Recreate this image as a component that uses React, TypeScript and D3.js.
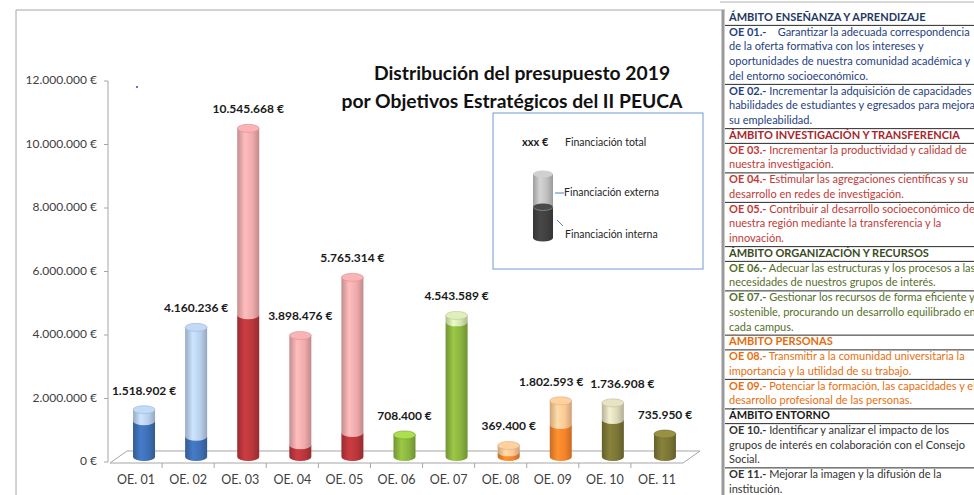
import React from 'react';
import * as d3 from 'd3';

const categories = ['OE. 01', 'OE. 02', 'OE. 03', 'OE. 04', 'OE. 05', 'OE. 06', 'OE. 07', 'OE. 08', 'OE. 09', 'OE. 10', 'OE. 11'];
const totalFunding = [1518902, 4160236, 10545668, 3898476, 5765314, 708400, 4543589, 369400, 1802593, 1736908, 735950];
const internalFunding = [1150000, 650000, 4550000, 380000, 770000, 708400, 4320000, 150000, 1030000, 1190000, 735950];
const yTickValues = [0, 2000000, 4000000, 6000000, 8000000, 10000000, 12000000];
const titleLines = ['Distribución del presupuesto 2019', 'por Objetivos Estratégicos del II PEUCA'];
const legendLabels = ['Financiación total', 'Financiación externa', 'Financiación interna'];

const innerColors = ['#3e6fb4', '#3e6fb4', '#b9363b', '#b9363b', '#b9363b', '#8ab43f', '#8ab43f', '#f5832a', '#f5832a', '#7b7536', '#7b7536'];
const outerColors = ['#b8cfeb', '#b8cfeb', '#efaaab', '#efaaab', '#efaaab', '#d3e3b0', '#d3e3b0', '#fbc795', '#fbc795', '#dbd8ba', '#dbd8ba'];

const groupTitles = ['ÁMBITO ENSEÑANZA Y APRENDIZAJE', 'ÁMBITO INVESTIGACIÓN Y TRANSFERENCIA', 'ÁMBITO ORGANIZACIÓN Y RECURSOS', 'ÁMBITO PERSONAS', 'ÁMBITO ENTORNO'];
const groupHeaderColors = ['#1f3864', '#a8262b', '#3b4a1e', '#e46c0a', '#1a1a1a'];
const groupTextColors = ['#26427e', '#bf3a36', '#566f2b', '#e8700f', '#333333'];
const objectiveCodes = ['OE 01.-', 'OE 02.-', 'OE 03.-', 'OE 04.-', 'OE 05.-', 'OE 06.-', 'OE 07.-', 'OE 08.-', 'OE 09.-', 'OE 10.-', 'OE 11.-'];
const objectiveGroup = [0, 0, 1, 1, 1, 2, 2, 3, 3, 4, 4];
const objectiveLines = [
  ['    Garantizar la adecuada correspondencia', 'de la oferta formativa con los intereses y', 'oportunidades de nuestra comunidad académica y', 'del entorno socioeconómico.'],
  [' Incrementar la adquisición de capacidades y', 'habilidades de estudiantes y egresados para mejorar', 'su empleabilidad.'],
  [' Incrementar la productividad y calidad de', 'nuestra investigación.'],
  [' Estimular las agregaciones científicas y su', 'desarrollo en redes de investigación.'],
  [' Contribuir al desarrollo socioeconómico de', 'nuestra región mediante la transferencia y la', 'innovación.'],
  [' Adecuar las estructuras y los procesos a las', 'necesidades de nuestros grupos de interés.'],
  [' Gestionar los recursos de forma eficiente y', 'sostenible, procurando un desarrollo equilibrado en', 'cada campus.'],
  [' Transmitir a la comunidad universitaria la', 'importancia y la utilidad de su trabajo.'],
  [' Potenciar la formación, las capacidades y el', 'desarrollo profesional de las personas.'],
  [' Identificar y analizar el impacto de los', 'grupos de interés en colaboración con el Consejo', 'Social.'],
  [' Mejorar la imagen y la difusión de la', 'institución.'],
];

const FONT = 'Lato, "Open Sans", sans-serif';

const locale = d3.formatLocale({ decimal: ',', thousands: '.', grouping: [3], currency: ['', ' €'] });
const fmt = locale.format('$,.0f');

type Row = { header: boolean; group: number; code?: string; lines: string[] };

function buildRows(): Row[] {
  const rows: Row[] = [];
  groupTitles.forEach((t, g) => {
    rows.push({ header: true, group: g, lines: [t] });
    objectiveCodes.forEach((c, i) => {
      if (objectiveGroup[i] === g) rows.push({ header: false, group: g, code: c, lines: objectiveLines[i] });
    });
  });
  return rows;
}

export default function App() {
  const W = 974, H = 495;
  const x = d3.scaleBand<string>().domain(categories).range([110, 683]).padding(0);
  const yAxis = d3.scaleLinear().domain([0, 12000000]).range([462, 81]);
  const yBar = d3.scaleLinear().domain([0, 12000000]).range([457, 83]);
  const bw = x.bandwidth();
  const rx = 11, ry = 4;
  const depthDx = 8;

  const uniq = Array.from(new Set([...innerColors, ...outerColors, '#bfbfbf', '#404040']));
  const gid = (c: string) => 'g' + c.replace('#', '');

  const segPath = (cx: number, yb: number, yt: number) =>
    `M${cx - rx},${yt} L${cx - rx},${yb} A${rx},${ry} 0 0 0 ${cx + rx},${yb} L${cx + rx},${yt} Z`;

  // value labels with simple collision avoidance between neighbours
  const labels = categories.map((c, i) => {
    const txt = fmt(totalFunding[i]);
    return { txt, x: x(c)! + bw / 2 + depthDx, y: yBar(totalFunding[i]) - ry - 11, w: txt.length * 6.1 };
  });
  for (let it = 0; it < 3; it++) {
    for (let i = 0; i < labels.length - 1; i++) {
      const a = labels[i], b = labels[i + 1];
      if (Math.abs(a.y - b.y) < 13) {
        const o = (a.x + a.w / 2 + 4) - (b.x - b.w / 2);
        if (o > 0) { a.x -= o / 2; b.x += o / 2; }
      }
    }
  }

  const rows = buildRows();
  const lineH = 14.75;
  const firstLine = 18;
  let li = 0;
  const rowLayout = rows.map((r) => {
    const start = li;
    li += r.lines.length;
    return { ...r, start };
  });

  const legendCx = 543;

  return (
    <svg width={W} height={H} style={{ position: 'absolute', left: 0, top: 0, background: '#fff' }} fontFamily={FONT}>
      <defs>
        {uniq.map((c) => {
          const base = d3.color(c)!;
          return (
            <linearGradient key={c} id={gid(c)} x1="0" x2="1" y1="0" y2="0">
              <stop offset="0" stopColor={base.darker(0.55).formatHex()} />
              <stop offset="0.35" stopColor={base.brighter(0.3).formatHex()} />
              <stop offset="0.7" stopColor={base.formatHex()} />
              <stop offset="1" stopColor={base.darker(0.6).formatHex()} />
            </linearGradient>
          );
        })}
      </defs>
      <rect x={0} y={0} width={W} height={H} fill="#fff" />

      {/* chart frame */}
      <path d="M16,500 L16,10 L725,10" fill="none" stroke="#a6a6a6" strokeWidth={1} />

      {/* title */}
      <text x={522} y={75} textAnchor="middle" dominantBaseline="middle" fontSize={19.3} fontWeight="bold" fill="#111">{titleLines[0]}</text>
      <text x={512} y={103} textAnchor="middle" dominantBaseline="middle" fontSize={19.3} fontWeight="bold" fill="#111">{titleLines[1]}</text>

      <circle cx={137} cy={87} r={1} fill="#3a3aff" />

      {/* y axis */}
      <line x1={108} x2={108} y1={yAxis(12000000)} y2={yAxis(0)} stroke="#a6a6a6" />
      {yTickValues.map((v) => (
        <g key={v}>
          <line x1={104} x2={108} y1={yAxis(v)} y2={yAxis(v)} stroke="#a6a6a6" />
          <text x={97} y={yAxis(v)} textAnchor="end" dominantBaseline="middle" fontSize={12} fill="#404040">{fmt(v)}</text>
        </g>
      ))}

      {/* floor */}
      <path d="M110,463 L127,451 L700,451 L683,463 Z" fill="none" stroke="#a6a6a6" strokeWidth={1} />
      {categories.map((c, i) => (
        <g key={c}>
          {i > 0 && <line x1={x(c)!} x2={x(c)!} y1={463} y2={468} stroke="#a6a6a6" />}
          <text x={x(c)! + bw / 2} y={481} textAnchor="middle" dominantBaseline="middle" fontSize={12.5} fill="#404040">{c}</text>
        </g>
      ))}

      {/* bars */}
      {categories.map((c, i) => {
        const cx = x(c)! + bw / 2 + depthDx;
        const y0 = yBar(0);
        const yi = yBar(internalFunding[i]);
        const yt = yBar(totalFunding[i]);
        const hasOuter = totalFunding[i] > internalFunding[i];
        const topColor = hasOuter ? outerColors[i] : innerColors[i];
        const capFill = d3.color(topColor)!.brighter(hasOuter ? 0.15 : 0.6).formatHex();
        return (
          <g key={c}>
            <path d={segPath(cx, y0, yi)} fill={`url(#${gid(innerColors[i])})`} />
            {hasOuter && <path d={segPath(cx, yi, yt)} fill={`url(#${gid(outerColors[i])})`} />}
            <ellipse cx={cx} cy={yt} rx={rx} ry={ry} fill={capFill} stroke={d3.color(topColor)!.darker(0.4).formatHex()} strokeWidth={0.6} />
          </g>
        );
      })}
      {labels.map((l, i) => (
        <text key={i} x={l.x} y={l.y} textAnchor="middle" fontSize={12} fontWeight="bold" fill="#1a1a1a">{l.txt}</text>
      ))}

      {/* legend */}
      <rect x={493} y={113} width={210} height={156} fill="#fff" stroke="#6f9bd6" strokeWidth={1} />
      <text x={522} y={143} dominantBaseline="middle" fontSize={11} fontWeight="bold" fill="#1a1a1a">xxx €</text>
      <text x={565} y={143} dominantBaseline="middle" fontSize={10.5} fill="#262626">{legendLabels[0]}</text>
      <path d={`M${legendCx - 10},174 L${legendCx - 10},207 A10,3.5 0 0 0 ${legendCx + 10},207 L${legendCx + 10},174 Z`} fill="url(#gbfbfbf)" />
      <path d={`M${legendCx - 10},207 L${legendCx - 10},238 A10,3.5 0 0 0 ${legendCx + 10},238 L${legendCx + 10},207 Z`} fill="url(#g404040)" />
      <ellipse cx={legendCx} cy={207} rx={10} ry={3.5} fill="#4a4a4a" />
      <path d={`M${legendCx - 10},207 A10,3.5 0 0 0 ${legendCx + 10},207`} fill="none" stroke="#a0a0a0" strokeWidth={0.6} />
      <ellipse cx={legendCx} cy={174} rx={10} ry={3.5} fill="#d0d0d0" />
      <line x1={555} x2={564} y1={193} y2={193} stroke="#4f81bd" strokeWidth={1} />
      <line x1={557} x2={563} y1={220} y2={226} stroke="#4f81bd" strokeWidth={1} />
      <text x={564} y={193} dominantBaseline="middle" fontSize={10.5} fill="#262626">{legendLabels[1]}</text>
      <text x={565} y={235} dominantBaseline="middle" fontSize={10.5} fill="#262626">{legendLabels[2]}</text>

      {/* table */}
      <line x1={723} x2={723} y1={10} y2={H} stroke="#9a9a9a" strokeWidth={3} />
      <line x1={720} x2={W} y1={2} y2={2} stroke="#b0b0b0" strokeWidth={1} />
      {rowLayout.map((r, k) => {
        const yTop = firstLine + (r.start - 0.5) * lineH;
        const col = r.header ? groupHeaderColors[r.group] : groupTextColors[r.group];
        return (
          <g key={k}>
            {k > 0 && <line x1={725} x2={W} y1={yTop} y2={yTop} stroke="#2a2a2a" strokeWidth={1} />}
            {r.lines.map((ln, j) => (
              <text key={j} x={729} y={firstLine + (r.start + j) * lineH} dominantBaseline="middle" fontSize={11} fill={col}
                fontWeight={r.header ? 'bold' : 'normal'} style={{ whiteSpace: 'pre' }}>
                {j === 0 && r.code ? <tspan fontWeight="bold">{r.code}</tspan> : null}
                {ln}
              </text>
            ))}
          </g>
        );
      })}
    </svg>
  );
}
